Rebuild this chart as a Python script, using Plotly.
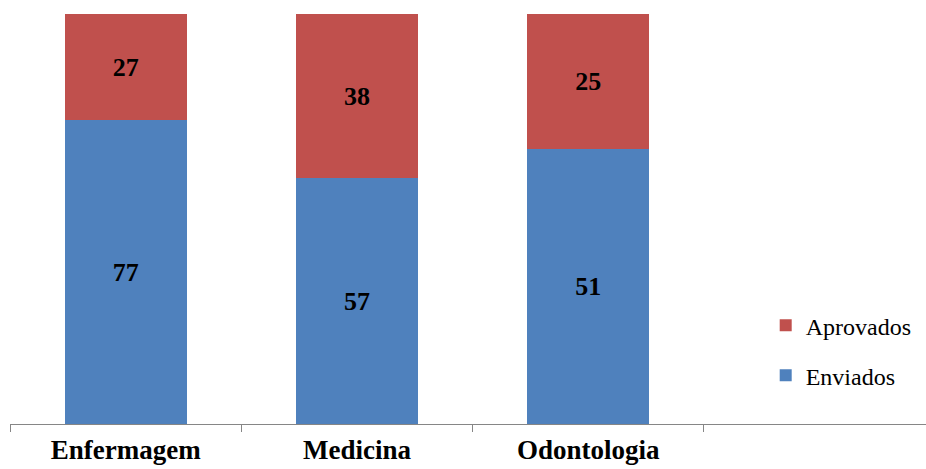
import plotly.graph_objects as go

categories = ["Enfermagem", "Medicina", "Odontologia"]
enviados = [77, 57, 51]
aprovados = [27, 38, 25]

x_pos = [0, 1, 2]
serif = "Times New Roman, Liberation Serif, serif"

fig = go.Figure()
fig.add_trace(go.Bar(
    x=x_pos, y=enviados, name="Enviados",
    marker=dict(color="#4F81BD", line=dict(width=0)),
    text=[f"<b>{v}</b>" for v in enviados], textposition="inside",
    insidetextanchor="middle",
    textfont=dict(family=serif, size=26, color="black"),
    width=0.527, legendgroup="env", legendrank=2,
))
fig.add_trace(go.Bar(
    x=x_pos, y=aprovados, name="Aprovados",
    marker=dict(color="#C0504D", line=dict(width=0)),
    text=[f"<b>{v}</b>" for v in aprovados], textposition="inside",
    insidetextanchor="middle",
    textfont=dict(family=serif, size=26, color="black"),
    width=0.527, legendgroup="apr", legendrank=1,
))

fig.update_layout(
    width=926, height=469,
    margin=dict(l=10, r=0, t=14, b=45),
    barmode="stack", barnorm="percent",
    plot_bgcolor="white", paper_bgcolor="white",
    font=dict(family=serif, color="black"),
    showlegend=True,
    legend=dict(
        x=0.825, y=0.295, xanchor="left", yanchor="top",
        traceorder="grouped", tracegroupgap=16,
        font=dict(family=serif, size=24, color="black"),
        itemwidth=30, bgcolor="rgba(0,0,0,0)",
    ),
    uniformtext=dict(mode="show", minsize=10),
)
fig.update_xaxes(
    range=[-0.5, -0.5 + 916 / 231.3],
    tickvals=x_pos, ticktext=[f"<b>{c}</b>" for c in categories],
    tickfont=dict(family=serif, size=27, color="black"),
    ticks="", ticklabelstandoff=2, automargin=False,
    showline=True, linecolor="#868686", linewidth=1,
    showgrid=False, zeroline=False,
    minor=dict(tickmode="array", tickvals=[-0.5, 0.5, 1.5, 2.5],
               ticks="outside", ticklen=7, tickcolor="#868686", tickwidth=1,
               showgrid=False),
)
fig.update_yaxes(range=[0, 100], visible=False, showgrid=False, automargin=False)

fig.write_html("out.html")
